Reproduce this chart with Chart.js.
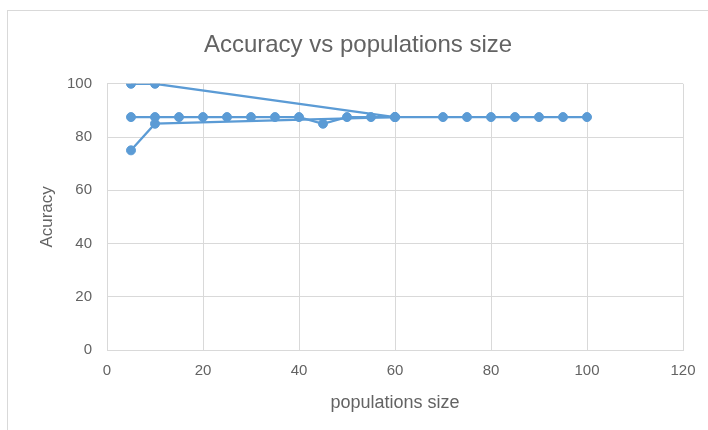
<!DOCTYPE html>
<html>
<head>
    <title>Accuracy vs populations size</title>
    <script src="https://cdn.jsdelivr.net/npm/chart.js"></script>
    <style>
        body { margin: 0; background: #ffffff; }
        .frame {
            position: absolute;
            left: 7px;
            top: 10px;
            width: 760px;
            height: 480px;
            border: 1px solid #d9d9d9;
        }
        .chart-box {
            position: absolute;
            left: 0;
            top: 0;
            width: 708px;
            height: 430px;
        }
    </style>
</head>
<body>
    <div class="frame"></div>
    <div class="chart-box">
        <canvas id="myChart" width="708" height="430"></canvas>
    </div>

    <script>
        // runs (same colour, drawn as separate paths)
        const runAX = [5, 10, 60];
        const runAY = [100, 100, 87.5];

        const runBX = [5, 10, 15, 20, 25, 30, 35, 40, 45, 50, 55, 60, 70, 75, 80, 85, 90, 95, 100];
        const runBY = [87.5, 87.5, 87.5, 87.5, 87.5, 87.5, 87.5, 87.5, 85, 87.5, 87.5, 87.5, 87.5, 87.5, 87.5, 87.5, 87.5, 87.5, 87.5];

        const runCX = [5, 10, 60];
        const runCY = [75, 85, 87.5];

        const xTicks = [0, 20, 40, 60, 80, 100, 120];
        const yTicks = [0, 20, 40, 60, 80, 100];

        const lineColor = '#5b9bd5';
        const textColor = '#636363';
        const gridColor = '#d9d9d9';

        function toPoints(xs, ys) {
            return xs.map((x, i) => ({ x: x, y: ys[i] }));
        }

        function makeRun(xs, ys) {
            return {
                data: toPoints(xs, ys),
                showLine: true,
                borderColor: lineColor,
                backgroundColor: lineColor,
                borderWidth: 2.25,
                pointRadius: 4.5,
                pointBorderWidth: 1,
                pointBorderColor: lineColor,
                tension: 0
            };
        }

        const ctx = document.getElementById('myChart').getContext('2d');

        new Chart(ctx, {
            type: 'scatter',
            data: {
                datasets: [
                    makeRun(runAX, runAY),
                    makeRun(runBX, runBY),
                    makeRun(runCX, runCY)
                ]
            },
            options: {
                responsive: false,
                animation: false,
                layout: {
                    padding: { left: 33, right: 25, top: 0, bottom: 12 }
                },
                plugins: {
                    legend: { display: false },
                    tooltip: { enabled: false },
                    title: {
                        display: true,
                        text: 'Accuracy vs populations size',
                        color: textColor,
                        font: { family: 'Liberation Sans', size: 24, weight: 'normal' },
                        padding: { top: 31, bottom: 24 }
                    }
                },
                scales: {
                    x: {
                        type: 'linear',
                        min: 0,
                        max: 120,
                        afterBuildTicks: s => { s.ticks = xTicks.map(v => ({ value: v })); },
                        afterFit: s => { s.height = 68; },
                        grid: { color: gridColor, drawTicks: false },
                        border: { color: gridColor },
                        ticks: {
                            color: textColor,
                            padding: 12,
                            font: { family: 'Liberation Sans', size: 15 }
                        },
                        title: {
                            display: true,
                            text: 'populations size',
                            color: textColor,
                            font: { family: 'Liberation Sans', size: 18 }
                        }
                    },
                    y: {
                        type: 'linear',
                        min: 0,
                        max: 100,
                        afterBuildTicks: s => { s.ticks = yTicks.map(v => ({ value: v })); },
                        afterFit: s => { s.width = 74; },
                        grid: { color: gridColor, drawTicks: false },
                        border: { display: false },
                        ticks: {
                            color: textColor,
                            padding: 15,
                            font: { family: 'Liberation Sans', size: 15 }
                        },
                        title: {
                            display: true,
                            text: 'Acuracy',
                            color: textColor,
                            font: { family: 'Liberation Sans', size: 17 }
                        }
                    }
                }
            }
        });
    </script>
</body>
</html>
